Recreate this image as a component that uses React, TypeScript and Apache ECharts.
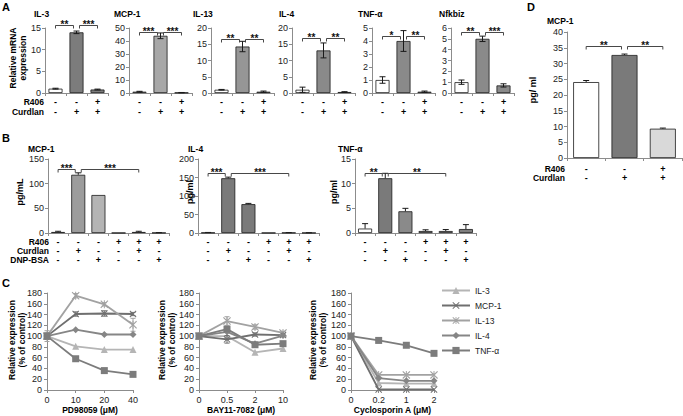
import React, { useEffect, useRef } from "react";
import * as echarts from "echarts";

const FONT = "'Liberation Sans', Arial, Helvetica, sans-serif";

// ---------- Panel A : relative mRNA expression ----------
const aR406 = ["-", "-", "+"];
const aCurdlan = ["-", "+", "+"];
const aTitles = ["IL-3", "MCP-1", "IL-13", "IL-4", "TNF-α", "Nfkbiz"];
const aMax = [15, 50, 20, 20, 5, 6];
const aStep = [5, 10, 5, 5, 1, 1];
const aIL3 = [1.0, 14.0, 0.8];
const aMCP1 = [1.0, 44.0, 0.3];
const aIL13 = [1.0, 14.3, 0.4];
const aIL4 = [1.0, 13.1, 0.3];
const aTNF = [1.0, 4.0, 0.1];
const aNfkbiz = [1.0, 5.0, 0.7];
const aIL3Err = [0.1, 0.3, 0.1];
const aMCP1Err = [0.3, 2.2, 0.1];
const aIL13Err = [0.1, 1.6, 0.2];
const aIL4Err = [0.8, 2.3, 0.1];
const aTNFErr = [0.25, 0.8, 0.05];
const aNfkbizErr = [0.2, 0.25, 0.15];
const aSigY = [15.6, 47, 16.5, 17, 4.4, 5.6];
const aSigLeft = ["**", "***", "**", "**", "*", "**"];
const aSigRight = ["***", "***", "**", "**", "**", "***"];

// ---------- Panel B : protein (pg/ml) ----------
const bR406 = ["-", "-", "-", "+", "+", "+"];
const bCurdlan = ["-", "+", "-", "-", "+", "-"];
const bDNP = ["-", "-", "+", "-", "-", "+"];
const bTitles = ["MCP-1", "IL-4", "TNF-α"];
const bUnits = ["pg/mL", "pg/ml", "pg/ml"];
const bMax = [150, 200, 15];
const bStep = [50, 50, 5];
const bMCP1 = [2, 118, 77, 0.3, 2, 0.5];
const bIL4 = [1, 148, 78, 0.5, 0.8, 0.5];
const bTNF = [0.9, 11.1, 4.4, 0.4, 0.4, 0.8];
const bMCP1Err = [1.5, 4, 0, 0, 1.5, 0.3];
const bIL4Err = [0.5, 3, 2, 0, 0.3, 0.3];
const bTNFErr = [1, 1, 0.6, 0.25, 0.3, 0.9];
const bSigY = [130, 162, 12.2];
const bSigLeft = ["***", "***", "**"];
const bSigRight = ["***", "***", "**"];

// ---------- Panel D ----------
const dR406 = ["-", "-", "+"];
const dCurdlan = ["-", "+", "+"];
const dMCP1 = [24.1, 32.7, 9.3];
const dMCP1Err = [0.5, 0.3, 0.2];
const dSigY = 35.5;
const dSig = ["**", "**"];

// ---------- Panel C : inhibitors ----------
const cNames = ["IL-3", "MCP-1", "IL-13", "IL-4", "TNF-α"];
const cPDDose = ["0", "10", "20", "40"];
const cBAYDose = ["0", "0.5", "2", "10"];
const cCsADose = ["0", "0.2", "1", "2"];
const cPD_IL3 = [100, 81, 75, 75];
const cPD_MCP1 = [100, 141, 142, 141];
const cPD_IL13 = [100, 175, 159, 121];
const cPD_IL4 = [100, 112, 103, 103];
const cPD_TNF = [100, 58, 36, 29];
const cPD_MCP1Err = [6, 4, 5, 3];
const cPD_IL13Err = [10, 4, 3, 12];
const cBAY_IL3 = [100, 100, 70, 77];
const cBAY_MCP1 = [100, 94, 103, 102];
const cBAY_IL13 = [100, 128, 117, 106];
const cBAY_IL4 = [100, 108, 86, 101];
const cBAY_TNF = [100, 113, 84, 86];
const cBAY_MCP1Err = [5, 7, 3, 3];
const cBAY_IL13Err = [6, 8, 4, 3];
const cCsA_IL3 = [100, 13, 12, 12];
const cCsA_MCP1 = [100, 1, 1, 1];
const cCsA_IL13 = [100, 28, 28, 28];
const cCsA_IL4 = [100, 22, 17, 17];
const cCsA_TNF = [100, 92, 83, 68];

const X_PATH = "path://M1,0L5,4L9,0L10,1L6,5L10,9L9,10L5,6L1,10L0,9L4,5L0,1Z";
const STAR_PATH = "path://M1,0L5,4L9,0L10,1L6,5L10,9L9,10L5,6L1,10L0,9L4,5L0,1Z M4.4,0L5.6,0L5.6,10L4.4,10Z";

export default function App() {
  const ref = useRef<HTMLDivElement>(null);

  useEffect(() => {
    if (!ref.current) return;
    document.body.style.margin = "0";
    const chart = echarts.init(ref.current, undefined, { renderer: "svg" });

    const AX = "#8c8c8c";
    const grids: any[] = [];
    const xAxes: any[] = [];
    const yAxes: any[] = [];
    const series: any[] = [];
    const graphics: any[] = [];

    const txt = (x: number, y: number, text: string, size: number, bold: boolean, rot = 0, align = "left", lh = 10) => ({
      type: "text",
      x,
      y,
      rotation: rot,
      silent: true,
      style: {
        text,
        font: `${bold ? "bold " : ""}${size}px ${FONT}`,
        fill: "#000",
        align,
        verticalAlign: "middle",
        textAlign: align,
        textVerticalAlign: "middle",
        lineHeight: lh,
      },
    });

    const errSeries = (idx: number, vals: number[], errs: number[], both: boolean, color = "#1a1a1a", cap = 3) => ({
      type: "custom",
      xAxisIndex: idx,
      yAxisIndex: idx,
      silent: true,
      z: 6,
      encode: { x: 0, y: 1 },
      data: vals.map((v, j) => [j, v, errs[j]]),
      renderItem: (params: any, api: any) => {
        const x = api.value(0);
        const v = api.value(1);
        const e = api.value(2);
        if (!e) return null;
        const top = api.coord([x, v + e]);
        const bot = api.coord([x, both ? v - e : v]);
        const st = { stroke: color, lineWidth: 1 };
        const ch: any[] = [
          { type: "line", shape: { x1: top[0], y1: top[1], x2: bot[0], y2: bot[1] }, style: st },
          { type: "line", shape: { x1: top[0] - cap, y1: top[1], x2: top[0] + cap, y2: top[1] }, style: st },
        ];
        if (both) ch.push({ type: "line", shape: { x1: bot[0] - cap, y1: bot[1], x2: bot[0] + cap, y2: bot[1] }, style: st });
        return { type: "group", children: ch };
      },
    });

    const sigSeries = (idx: number, pairs: number[][], y: number, labels: string[]) => ({
      type: "custom",
      xAxisIndex: idx,
      yAxisIndex: idx,
      silent: true,
      z: 7,
      encode: { x: [0, 1], y: 2 },
      data: pairs.map((p) => [p[0], p[1], y]),
      renderItem: (params: any, api: any) => {
        const from = api.value(0);
        const to = api.value(1);
        const p1 = api.coord([from, api.value(2)]);
        const p2 = api.coord([to, api.value(2)]);
        const x1 = p1[0] + (from === 1 ? 3 : 0);
        const x2 = p2[0] - (to === 1 ? 3 : 0);
        const yy = Math.round(p1[1]) + 0.5;
        return {
          type: "group",
          children: [
            {
              type: "polyline",
              shape: { points: [[x1, yy + 3], [x1, yy], [x2, yy], [x2, yy + 3]] },
              style: { stroke: "#333", fill: "none", lineWidth: 0.9 },
            },
            {
              type: "text",
              x: (x1 + x2) / 2,
              y: yy + 4,
              style: {
                text: labels[params.dataIndex],
                font: `bold 10px ${FONT}`,
                fill: "#111",
                align: "center",
                verticalAlign: "bottom",
                textAlign: "center",
                textVerticalAlign: "bottom",
              },
            },
          ],
        };
      },
    });

    const addBarPanel = (o: any) => {
      const idx = grids.length;
      grids.push({ left: o.left, top: o.top, width: o.width, height: o.height, containLabel: false });
      xAxes.push({
        type: "category",
        gridIndex: idx,
        data: o.cats,
        axisLine: { lineStyle: { color: AX } },
        axisTick: { show: true, length: 3, lineStyle: { color: AX } },
        axisLabel: {
          interval: 0,
          fontFamily: FONT,
          fontSize: 9,
          fontWeight: "bold",
          color: "#000",
          lineHeight: o.lh,
          margin: o.margin,
        },
        splitLine: { show: false },
      });
      yAxes.push({
        type: "value",
        gridIndex: idx,
        min: 0,
        max: o.max,
        interval: o.step,
        axisLine: { show: true, lineStyle: { color: AX } },
        axisTick: { show: true, length: 3, lineStyle: { color: AX } },
        axisLabel: { fontFamily: FONT, fontSize: 9, color: "#222", margin: 4 },
        splitLine: { show: false },
      });
      series.push({
        type: "bar",
        xAxisIndex: idx,
        yAxisIndex: idx,
        barWidth: o.barWidth,
        silent: true,
        data: o.values.map((v: number, j: number) => ({ value: v, itemStyle: { color: o.colors[j] } })),
        itemStyle: { borderColor: "#1a1a1a", borderWidth: 0.8 },
      });
      series.push(errSeries(idx, o.values, o.errs, o.both));
      series.push(sigSeries(idx, o.pairs, o.sigY, o.sigLabels));
    };

    // Panel A
    const aVals = [aIL3, aMCP1, aIL13, aIL4, aTNF, aNfkbiz];
    const aErrs = [aIL3Err, aMCP1Err, aIL13Err, aIL4Err, aTNFErr, aNfkbizErr];
    const aLeft = [45, 129, 211, 292, 372, 451];
    const aFill = ["#7c7c7c", "#a8a8a8", "#969696", "#8a8a8a", "#8a8a8a", "#8a8a8a"];
    const aTitleX = [34, 114, 193, 279, 358, 439];
    const aCats = aR406.map((r, i) => `${r}\n${aCurdlan[i]}`);
    aVals.forEach((vals, i) => {
      addBarPanel({
        left: aLeft[i], top: 28, width: 63, height: 65,
        cats: aCats, lh: 10, margin: 4,
        max: aMax[i], step: aStep[i], barWidth: 14,
        values: vals, errs: aErrs[i], both: true,
        colors: ["#ffffff", aFill[i], aFill[i]],
        pairs: [[0, 1], [1, 2]], sigY: aSigY[i], sigLabels: [aSigLeft[i], aSigRight[i]],
      });
      graphics.push(txt(aTitleX[i], 14, aTitles[i], 8.5, true));
    });
    graphics.push(txt(44, 102, "R406", 8.5, true, 0, "right"));
    graphics.push(txt(44, 112, "Curdlan", 8.5, true, 0, "right"));
    graphics.push(txt(18, 58, "Relative mRNA\nexpression", 8.5, true, Math.PI / 2, "center", 10));
    graphics.push(txt(2, 7, "A", 11, true));

    // Panel B
    const bVals = [bMCP1, bIL4, bTNF];
    const bErrs = [bMCP1Err, bIL4Err, bTNFErr];
    const bLeft = [48, 198, 355];
    const bColors = [
      ["#ffffff", "#9c9c9c", "#b4b4b4", "#aaaaaa", "#aaaaaa", "#aaaaaa"],
      ["#ffffff", "#7a7a7a", "#7a7a7a", "#808080", "#808080", "#808080"],
      ["#ffffff", "#7a7a7a", "#8a8a8a", "#8a8a8a", "#8a8a8a", "#7f7f7f"],
    ];
    const bTitleX = [28, 188, 338];
    const bUnitX = [20, 190, 334];
    const bCats = bR406.map((r, i) => `${r}\n${bCurdlan[i]}\n${bDNP[i]}`);
    bVals.forEach((vals, i) => {
      addBarPanel({
        left: bLeft[i], top: 159, width: 121, height: 74,
        cats: bCats, lh: 9, margin: 4,
        max: bMax[i], step: bStep[i], barWidth: 14,
        values: vals, errs: bErrs[i], both: false,
        colors: bColors[i],
        pairs: [[0, 1], [1, 4]], sigY: bSigY[i], sigLabels: [bSigLeft[i], bSigRight[i]],
      });
      graphics.push(txt(bTitleX[i], 149, bTitles[i], 8.5, true));
      graphics.push(txt(bUnitX[i], 192, bUnits[i], 9, true, Math.PI / 2, "center"));
    });
    graphics.push(txt(49, 242, "R406", 8.5, true, 0, "right"));
    graphics.push(txt(49, 251, "Curdlan", 8.5, true, 0, "right"));
    graphics.push(txt(49, 260, "DNP-BSA", 8.5, true, 0, "right"));
    graphics.push(txt(2, 138, "B", 11, true));

    // Panel D
    addBarPanel({
      left: 567, top: 32, width: 115, height: 126,
      cats: dR406.map((r, i) => `${r}\n${dCurdlan[i]}`), lh: 9, margin: 6,
      max: 40, step: 5, barWidth: 26,
      values: dMCP1, errs: dMCP1Err, both: false,
      colors: ["#ffffff", "#7a7a7a", "#d9d9d9"],
      pairs: [[0, 1], [1, 2]], sigY: dSigY, sigLabels: dSig,
    });
    graphics.push(txt(547, 21, "MCP-1", 8.5, true));
    graphics.push(txt(533, 90, "pg/ ml", 9, true, Math.PI / 2, "center"));
    graphics.push(txt(565, 169, "R406", 8.5, true, 0, "right"));
    graphics.push(txt(565, 178, "Curdlan", 8.5, true, 0, "right"));
    graphics.push(txt(527, 7, "D", 11, true));

    // Panel C
    const cColors = ["#b5b5b5", "#6f6f6f", "#a2a2a2", "#868686", "#7c7c7c"];
    const cSymbols = ["triangle", X_PATH, STAR_PATH, "diamond", "rect"];
    const cSizes = [7, 7, 8, 7, 7];
    const cCharts = [
      { left: 47, width: 86, dose: cPDDose, name: "PD98059 (μM)", vals: [cPD_IL3, cPD_MCP1, cPD_IL13, cPD_IL4, cPD_TNF], errs: [null, cPD_MCP1Err, cPD_IL13Err, null, null], titleX: 17 },
      { left: 199, width: 84, dose: cBAYDose, name: "BAY11-7082 (μM)", vals: [cBAY_IL3, cBAY_MCP1, cBAY_IL13, cBAY_IL4, cBAY_TNF], errs: [null, cBAY_MCP1Err, cBAY_IL13Err, null, null], titleX: 167 },
      { left: 351, width: 83, dose: cCsADose, name: "Cyclosporin A (μM)", vals: [cCsA_IL3, cCsA_MCP1, cCsA_IL13, cCsA_IL4, cCsA_TNF], errs: [null, null, null, null, null], titleX: 318 },
    ];
    cCharts.forEach((c) => {
      const idx = grids.length;
      grids.push({ left: c.left, top: 293, width: c.width, height: 97, containLabel: false });
      xAxes.push({
        type: "category",
        gridIndex: idx,
        data: c.dose,
        boundaryGap: false,
        name: c.name,
        nameLocation: "middle",
        nameGap: 15,
        nameTextStyle: { fontFamily: FONT, fontSize: 8.5, fontWeight: "bold", color: "#000" },
        axisLine: { lineStyle: { color: AX } },
        axisTick: { show: true, length: 3, lineStyle: { color: AX } },
        axisLabel: { interval: 0, fontFamily: FONT, fontSize: 9, color: "#222", margin: 5 },
        splitLine: { show: false },
      });
      yAxes.push({
        type: "value",
        gridIndex: idx,
        min: 0,
        max: 180,
        interval: 20,
        axisLine: { show: true, lineStyle: { color: AX } },
        axisTick: { show: true, length: 3, lineStyle: { color: AX } },
        axisLabel: { fontFamily: FONT, fontSize: 9, color: "#222", margin: 5 },
        splitLine: { show: false },
      });
      c.vals.forEach((vals, k) => {
        series.push({
          type: "line",
          name: cNames[k],
          xAxisIndex: idx,
          yAxisIndex: idx,
          data: vals,
          symbol: cSymbols[k],
          symbolSize: cSizes[k],
          lineStyle: { color: cColors[k], width: 1.8 },
          itemStyle: { color: cColors[k] },
          silent: true,
          z: 3 + k,
        });
        const e = c.errs[k];
        if (e) series.push(errSeries(idx, vals, e, true, cColors[k], 2.5));
      });
      graphics.push(txt(c.titleX, 340, "Relative expression\n(% of control)", 8.5, true, Math.PI / 2, "center", 10));
    });
    graphics.push(txt(2, 283, "C", 11, true));

    chart.setOption({
      animation: false,
      backgroundColor: "#ffffff",
      textStyle: { fontFamily: FONT },
      grid: grids,
      xAxis: xAxes,
      yAxis: yAxes,
      series,
      legend: {
        data: cNames,
        orient: "vertical",
        left: 436,
        top: 281,
        itemWidth: 28,
        itemHeight: 9,
        itemGap: 6,
        selectedMode: false,
        textStyle: { fontFamily: FONT, fontSize: 8.5, color: "#222" },
      },
      graphic: graphics,
    });

    return () => chart.dispose();
  }, []);

  return <div ref={ref} style={{ position: "fixed", left: 0, top: 0, width: 683, height: 416 }} />;
}
